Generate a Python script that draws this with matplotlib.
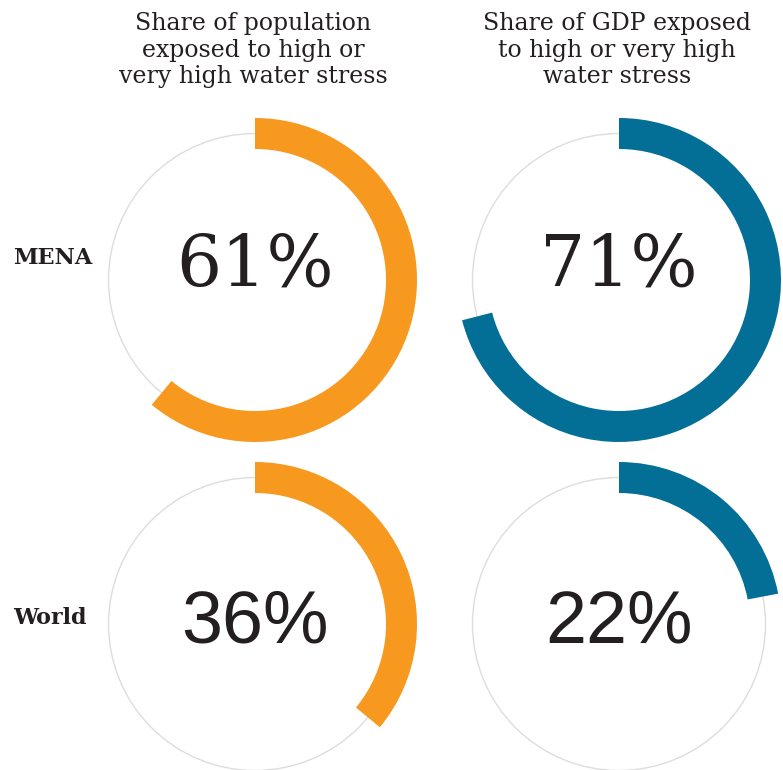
import matplotlib
matplotlib.use("Agg")
import matplotlib.pyplot as plt
from matplotlib.patches import Wedge, Circle

# ---- data ----
regions = ["MENA", "World"]
metric_titles = [
    "Share of population\nexposed to high or\nvery high water stress",
    "Share of GDP exposed\nto high or very high\nwater stress",
]
population_share = [61, 36]   # MENA, World
gdp_share = [71, 22]          # MENA, World

# ---- styling ----
W, H = 783, 770
colors = ["#F7991F", "#036E96"]
grey = "#DDDDDD"
text_col = "#231F20"
col_x = [255, 619]
row_y = [H - 280, H - 624]      # circle centres (pixel space, y up)
text_dy = [14, 1]               # percentage text offset above centre
label_dy = [22, 6]
r_outer, ring_w = 162, 31
pct_fonts = ["DejaVu Serif", "Liberation Sans"]
pct_sizes = [51, 53]

fig = plt.figure(figsize=(W / 100, H / 100), dpi=100)
ax = fig.add_axes([0, 0, 1, 1])
ax.set_xlim(0, W)
ax.set_ylim(0, H)
ax.set_aspect("equal")
ax.axis("off")

series = [population_share, gdp_share]
for ci, vals in enumerate(series):
    for ri, v in enumerate(vals):
        cx, cy = col_x[ci], row_y[ri]
        ax.add_patch(Circle((cx, cy), r_outer - ring_w / 2, fill=False,
                            ec=grey, lw=1.0, zorder=1))
        ax.add_patch(Wedge((cx, cy), r_outer, 90 - 360 * v / 100, 90,
                           width=ring_w, fc=colors[ci], ec="none", zorder=2))
        ax.text(cx, cy + text_dy[ri], f"{v}%", ha="center", va="center",
                fontsize=pct_sizes[ri], family=pct_fonts[ri], color=text_col,
                zorder=3)

for ci, t in enumerate(metric_titles):
    ax.text(col_x[ci] - 2, H - 50, t, ha="center", va="center", fontsize=17,
            family="DejaVu Serif", color=text_col, linespacing=1.2)

for ri, name in enumerate(regions):
    ax.text(13, row_y[ri] + label_dy[ri], name, ha="left", va="center",
            fontsize=16, family="DejaVu Serif", fontweight="bold",
            color=text_col)

fig.savefig("out.png", dpi=100)
